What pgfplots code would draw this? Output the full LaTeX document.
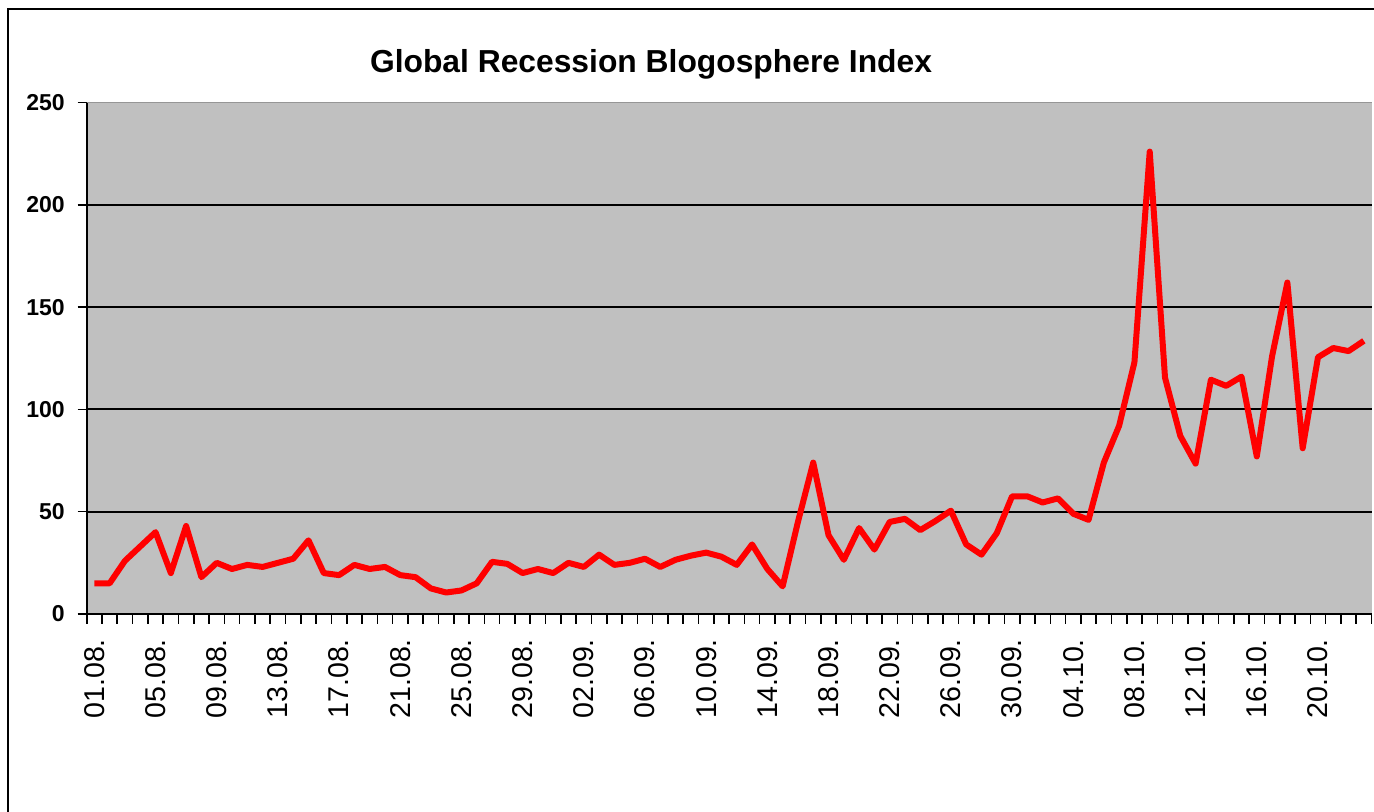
\documentclass[border=0pt]{standalone}
\usepackage{pgfplots}
\pgfplotsset{compat=1.18}
\usepackage{fontspec}
\setmainfont{Liberation Sans}
\definecolor{plotgray}{RGB}{192,192,192}
\definecolor{bordergray}{RGB}{150,150,150}
\begin{document}
\begin{tikzpicture}
\path[use as bounding box] (0,0) rectangle (687pt,406pt);
\draw[black, line width=0.8pt] (4pt,0) -- (4pt,401.5pt) -- (687pt,401.5pt);
\node[font=\fontsize{15.9}{18}\selectfont\bfseries] at (325.5pt,374pt) {Global Recession Blogosphere Index};
\begin{axis}[
  at={(43.35pt,99pt)}, anchor=south west,
  scale only axis,
  width=642.4pt, height=255.75pt,
  xmin=-0.5, xmax=83.5,
  ymin=0, ymax=250,
  axis lines=left,
  axis line style={-, black, line width=0.9pt},
  axis background/.style={fill=plotgray},
  tick align=outside,
  xtick={0,4,...,80},
  xticklabels={01.08.,05.08.,09.08.,13.08.,17.08.,21.08.,25.08.,29.08.,02.09.,06.09.,10.09.,14.09.,18.09.,22.09.,26.09.,30.09.,04.10.,08.10.,12.10.,16.10.,20.10.},
  minor xtick={-0.5,0.5,...,83.5},
  major x tick style={draw=none},
  minor x tick style={black, line width=0.8pt},
  minor tick length=5pt,
  major tick length=4.5pt,
  ytick={0,50,100,150,200,250},
  ytick style={black, line width=0.8pt},
  ymajorgrids=true,
  major grid style={black, line width=0.9pt},
  xticklabel style={rotate=90, anchor=east, font=\fontsize{14.3}{14}\selectfont, xshift=-4.5pt},
  yticklabel style={font=\fontsize{11.5}{12}\selectfont\bfseries, xshift=-3pt},
  /pgf/number format/assume math mode=true,
  clip=false,
]
\addplot[red, line width=3pt, line join=round, mark=none] coordinates {
(0,15) (1,15) (2,26) (3,33) (4,40) (5,20) (6,43) (7,18) (8,25) (9,22)
(10,24) (11,23) (12,25) (13,27) (14,36) (15,20) (16,19) (17,24) (18,22) (19,23)
(20,19) (21,18) (22,12.5) (23,10.5) (24,11.5) (25,15) (26,25.5) (27,24.5) (28,20) (29,22)
(30,20) (31,25) (32,23) (33,29) (34,24) (35,25) (36,27) (37,23) (38,26.5) (39,28.5)
(40,30) (41,28) (42,24) (43,34) (44,22) (45,13.5) (46,45) (47,74) (48,38.5) (49,26.5)
(50,42) (51,31.5) (52,45) (53,46.5) (54,41) (55,45.5) (56,50.5) (57,34) (58,29) (59,39.5)
(60,57.5) (61,57.5) (62,54.5) (63,56.5) (64,49) (65,46) (66,74) (67,92) (68,123) (69,226)
(70,115.5) (71,87) (72,73.5) (73,114.5) (74,111.5) (75,116) (76,77) (77,126) (78,162) (79,81)
(80,125.5) (81,130) (82,128.5) (83,133.5)
};
\draw[bordergray, line width=0.8pt] (axis cs:-0.5,250) -- (axis cs:83.5,250);
\end{axis}
\end{tikzpicture}
\end{document}
